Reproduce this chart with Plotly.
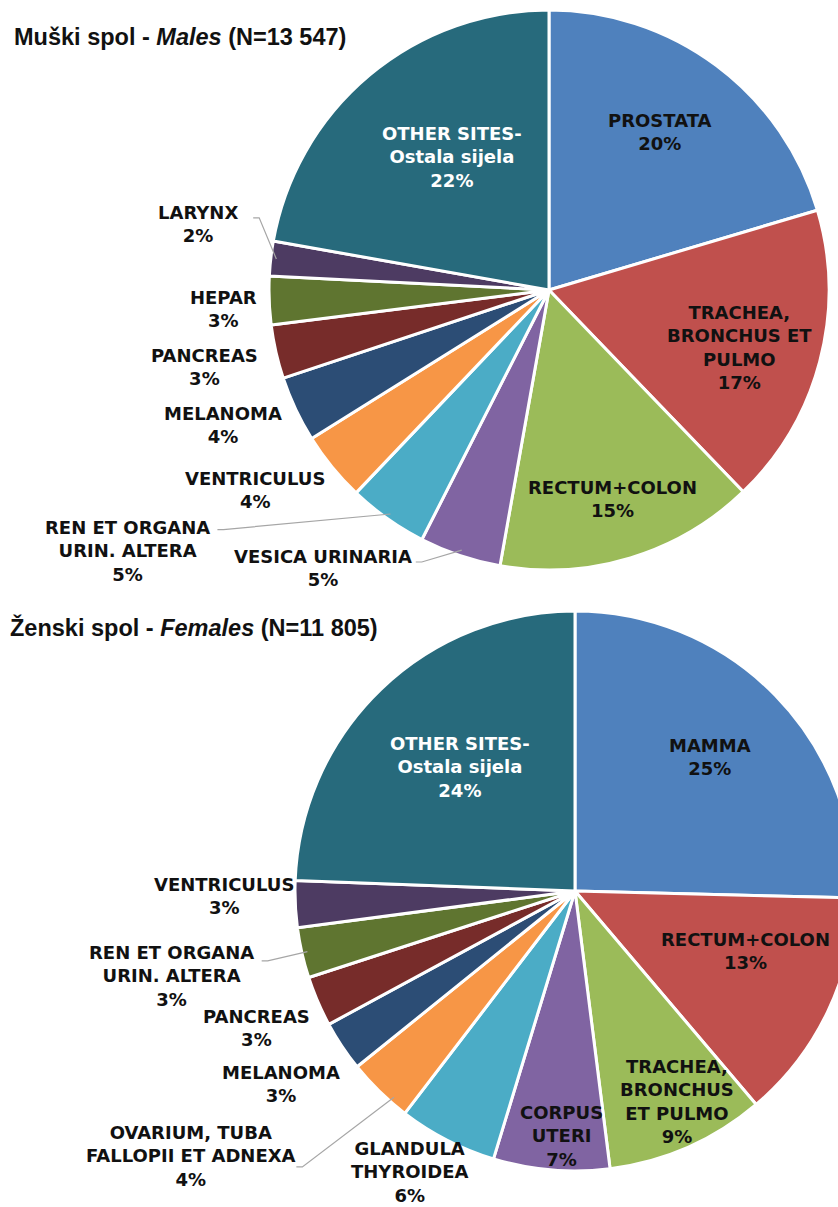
import math
import plotly.graph_objects as go

# ---------------- data ----------------
male_labels = ["PROSTATA", "TRACHEA,<br>BRONCHUS ET<br>PULMO", "RECTUM+COLON", "VESICA URINARIA",
               "REN ET ORGANA<br>URIN. ALTERA", "VENTRICULUS", "MELANOMA", "PANCREAS", "HEPAR",
               "LARYNX", "OTHER SITES-<br>Ostala sijela"]
male_values = [20.4, 17.4, 15.0, 4.7, 4.6, 4.0, 3.8, 3.1, 2.8, 2.0, 22.2]

female_labels = ["MAMMA", "RECTUM+COLON", "TRACHEA,<br>BRONCHUS<br>ET PULMO", "CORPUS<br>UTERI",
                 "GLANDULA<br>THYROIDEA", "OVARIUM, TUBA<br>FALLOPII ET ADNEXA", "MELANOMA",
                 "PANCREAS", "REN ET ORGANA<br>URIN. ALTERA", "VENTRICULUS", "OTHER SITES-<br>Ostala sijela"]
female_values = [25.4, 13.4, 9.2, 6.7, 5.7, 3.8, 2.9, 2.9, 2.9, 2.7, 24.4]

male_title = "Muški spol - <i>Males</i> (N=13 547)"
female_title = "Ženski spol - <i>Females</i> (N=11 805)"

# ---------------- styles / layout ----------------
male_colors = ["#4F81BD", "#C0504D", "#9BBB59", "#8064A2", "#4BACC6", "#F79646",
               "#2C4D75", "#772C2A", "#5F7530", "#4D3B62", "#276A7C"]
female_colors = ["#4F81BD", "#C0504D", "#9BBB59", "#8064A2", "#4BACC6", "#F79646",
                 "#2C4D75", "#772C2A", "#5F7530", "#4D3B62", "#276A7C"]

W, H = 860, 1207
R = 280
male_center = (549, 290)
female_center = (575, 891)

# label placement: radius factor and angular shift (deg) relative to slice middle
male_k = [0.69, 0.71, 0.78, 1.28, 1.77, 1.27, 1.26, 1.26, 1.166, 1.275, 0.59]
male_d = [-1.5, 2.0, 0.0, 20.6, 23.0, 5.0, 2.7, 0.2, -1.1, 4.2, 3.8]
female_k = [0.68, 0.645, 0.835, 0.875, 1.165, 1.665, 1.255, 1.24, 1.472, 1.255, 0.605]
female_d = [-0.4, -6.3, -2.0, -1.6, 3.3, 11.1, 0.3, -0.1, 0.9, 1.9, 1.0]

# leader lines: slice index -> (offset of line start from label centre in px, end-angle shift in deg)
male_leaders = {3: (93, -6, 0.0), 4: (90, -21, 0.0), 9: (55, -6, 0.0)}
female_leaders = {8: (90, -15, 0.0), 5: (105, 11, -3.0)}

LABEL_FONT = "DejaVu Sans, Verdana, sans-serif"
TITLE_FONT = "Liberation Sans, Arial, sans-serif"


def px(x, y):
    return x / W, 1 - y / H


def domain_for(center):
    cx, cy = center
    return dict(x=[(cx - R) / W, (cx + R) / W], y=[1 - (cy + R) / H, 1 - (cy - R) / H])


fig = go.Figure()
annotations = []
shapes = []


def add_pie(labels, values, colors, center, ks, ds, leaders):
    fig.add_trace(go.Pie(
        labels=[l.replace("<br>", " ") for l in labels], values=values, sort=False,
        direction="clockwise", rotation=0, marker=dict(colors=colors, line=dict(color="white", width=3)),
        textinfo="none", hoverinfo="label+percent", showlegend=False, domain=domain_for(center)))
    total = sum(values)
    cum = 0.0
    cx, cy = center
    for i, (lab, v) in enumerate(zip(labels, values)):
        mid = (cum + v / 2) / total * 360.0
        cum += v
        ang = math.radians(mid + ds[i])
        lx = cx + ks[i] * R * math.sin(ang)
        ly = cy - ks[i] * R * math.cos(ang)
        pct = int(math.floor(v / total * 100 + 0.5))
        color = "white" if lab.startswith("OTHER") else "#111111"
        x, y = px(lx, ly)
        annotations.append(dict(x=x, y=y, xref="paper", yref="paper", showarrow=False,
                                xanchor="center", yanchor="middle", align="center",
                                text="<b>%s<br>%d%%</b>" % (lab, pct),
                                font=dict(family=LABEL_FONT, size=18, color=color)))
        if i in leaders:
            ox, oy, da = leaders[i]
            sx, sy = lx + ox, ly + oy
            ma = math.radians(mid + da)
            ex = cx + 0.98 * R * math.sin(ma)
            ey = cy - 0.98 * R * math.cos(ma)
            p0 = px(sx, sy)
            p1 = px(sx + 6, sy)
            p2 = px(ex, ey)
            shapes.append(dict(type="path", xref="paper", yref="paper",
                               path="M %f,%f L %f,%f L %f,%f" % (p0[0], p0[1], p1[0], p1[1], p2[0], p2[1]),
                               line=dict(color="#A6A6A6", width=1.2)))


add_pie(male_labels, male_values, male_colors, male_center, male_k, male_d, male_leaders)
add_pie(female_labels, female_values, female_colors, female_center, female_k, female_d, female_leaders)

for t, (tx, ty) in [(male_title, (12, 37)), (female_title, (8, 627))]:
    x, y = px(tx, ty)
    annotations.append(dict(x=x, y=y, xref="paper", yref="paper", showarrow=False,
                            xanchor="left", yanchor="middle", text="<b>%s</b>" % t,
                            font=dict(family=TITLE_FONT, size=23.5, color="#111111")))

fig.update_layout(width=W, height=H, margin=dict(l=0, r=0, t=0, b=0),
                  paper_bgcolor="white", plot_bgcolor="white",
                  annotations=annotations, shapes=shapes)

fig.write_html("out.html", config={"displayModeBar": False},
               post_script="document.body.style.margin='0';document.body.style.overflow='hidden';")
